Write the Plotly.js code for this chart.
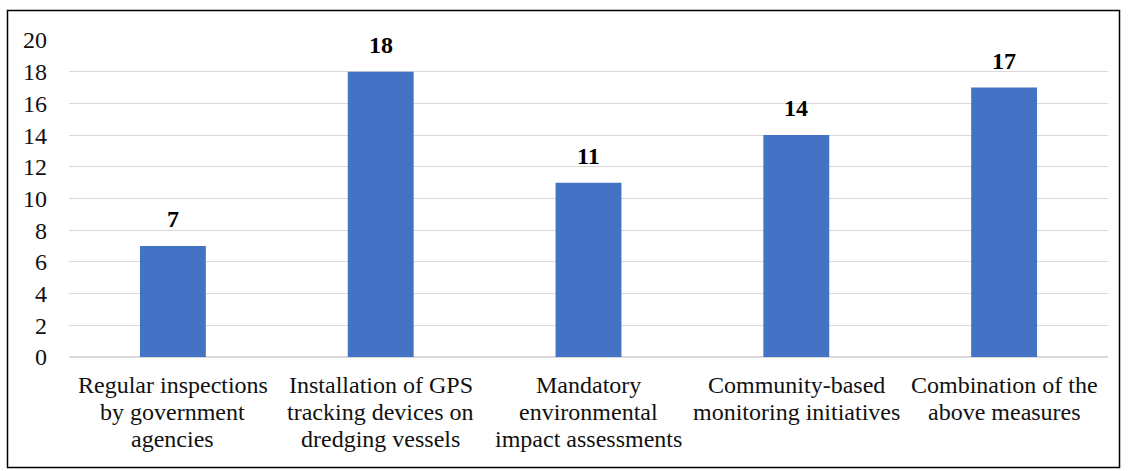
<!DOCTYPE html>
<html>
<head>
<meta charset="utf-8">
<script src="https://cdn.plot.ly/plotly-3.0.1.min.js"></script>
<style>html,body{margin:0;padding:0;background:#fff;}#chart{width:1129px;height:471px;}</style>
</head>
<body>
<div id="chart"></div>
<script>
const categories = [
  "Regular inspections<br>by government<br>agencies",
  "Installation of GPS<br>tracking devices on<br>dredging vessels",
  "Mandatory<br>environmental<br>impact assessments",
  "Community-based<br>monitoring initiatives",
  "Combination of the<br>above measures"
];
const values = [7, 18, 11, 14, 17];
const yTicks = [0, 2, 4, 6, 8, 10, 12, 14, 16, 18, 20];

const font = "Liberation Serif, DejaVu Serif, serif";

const trace = {
  type: "bar",
  x: categories,
  y: values,
  marker: {color: "#4472C4"},
  hoverinfo: "none"
};

const valueLabels = categories.map((c, i) => ({
  x: c, y: values[i], xref: "x", yref: "y",
  text: "<b>" + values[i] + "</b>",
  showarrow: false, yanchor: "bottom", yshift: 12,
  font: {family: font, size: 24, color: "#000"}
}));

const categoryLabels = [];
categories.forEach(c => {
  c.split("<br>").forEach((line, j) => {
    categoryLabels.push({
      x: c, y: 0, xref: "x", yref: "paper",
      text: line, showarrow: false, yanchor: "middle",
      yshift: -28 - 27 * j,
      font: {family: font, size: 24, color: "#111"}
    });
  });
});

const layout = {
  width: 1129, height: 471,
  margin: {l: 69, r: 21, t: 40, b: 114},
  paper_bgcolor: "#fff", plot_bgcolor: "#fff",
  bargap: 0.683,
  showlegend: false,
  font: {family: font, size: 24, color: "#000"},
  xaxis: {
    type: "category",
    showgrid: false, showline: false, ticks: "",
    showticklabels: false,
    automargin: false
  },
  yaxis: {
    range: [0, 20], tickvals: yTicks, ticktext: yTicks.map(String),
    showgrid: true, gridcolor: "#d9d9d9", gridwidth: 1.2,
    zeroline: true, zerolinecolor: "#d9d9d9", zerolinewidth: 1.2,
    showline: false, ticks: "",
    ticklabelstandoff: 21,
    tickfont: {family: font, size: 24, color: "#111"},
    automargin: false, fixedrange: true
  },
  annotations: valueLabels.concat(categoryLabels),
  shapes: [{
    type: "rect", xref: "paper", yref: "paper",
    x0: (7.5 - 69) / 1039, x1: (1119.5 - 69) / 1039,
    y0: (357 - 467.5) / 317, y1: (357 - 10.5) / 317,
    line: {color: "#000", width: 1.5}, fillcolor: "rgba(0,0,0,0)", layer: "below"
  }]
};

Plotly.newPlot("chart", [trace], layout, {displayModeBar: false, staticPlot: true});
</script>
</body>
</html>
